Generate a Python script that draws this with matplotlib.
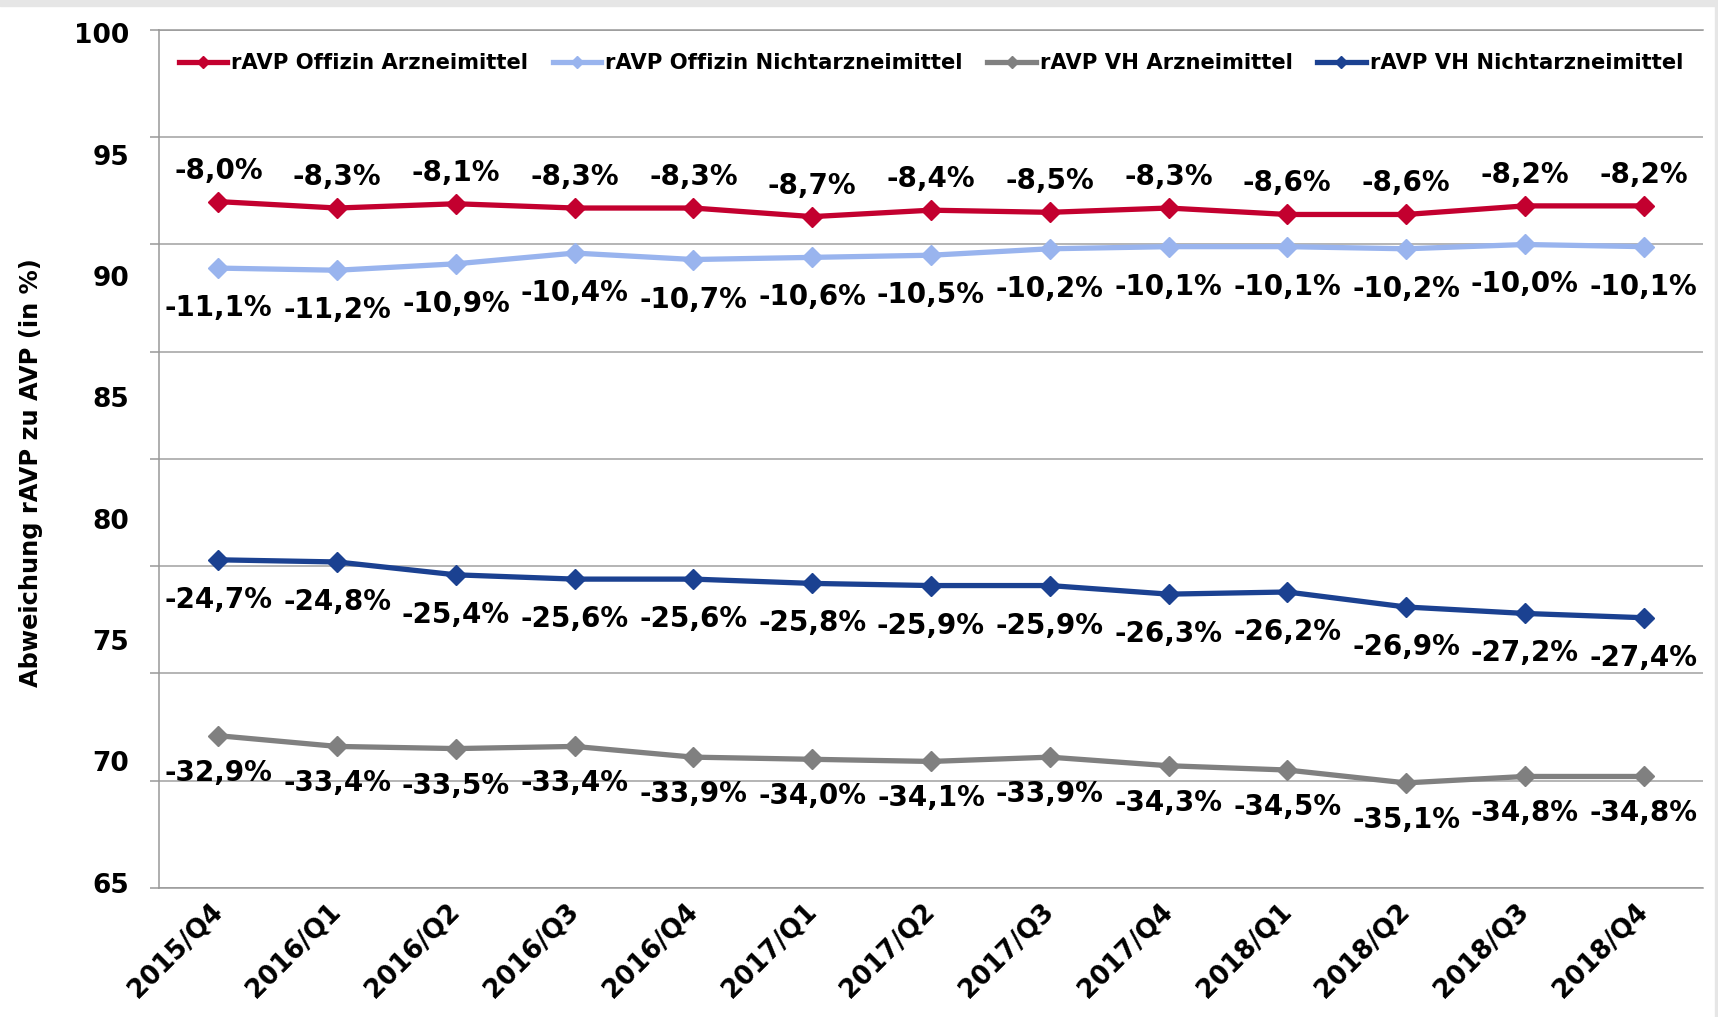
import numpy as np
import matplotlib
matplotlib.use("Agg")
import matplotlib.pyplot as plt
from matplotlib.patches import Rectangle
from matplotlib.transforms import ScaledTranslation

# quarters on the x axis
quarters = ["2015/Q4", "2016/Q1", "2016/Q2", "2016/Q3", "2016/Q4", "2017/Q1", "2017/Q2",
            "2017/Q3", "2017/Q4", "2018/Q1", "2018/Q2", "2018/Q3", "2018/Q4"]

# deviation rAVP vs AVP in percent
offizin_am = [-8.0, -8.3, -8.1, -8.3, -8.3, -8.7, -8.4, -8.5, -8.3, -8.6, -8.6, -8.2, -8.2]
offizin_nam = [-11.1, -11.2, -10.9, -10.4, -10.7, -10.6, -10.5, -10.2, -10.1, -10.1, -10.2, -10.0, -10.1]
vh_am = [-32.9, -33.4, -33.5, -33.4, -33.9, -34.0, -34.1, -33.9, -34.3, -34.5, -35.1, -34.8, -34.8]
vh_nam = [-24.7, -24.8, -25.4, -25.6, -25.6, -25.8, -25.9, -25.9, -26.3, -26.2, -26.9, -27.2, -27.4]

# y tick labels as printed in the original chart (not aligned to the gridlines)
ytick_text = ["65", "70", "75", "80", "85", "90", "95", "100"]

series = [
    ("rAVP Offizin Arzneimittel", offizin_am, "#C3002F", -31),
    ("rAVP Offizin Nichtarzneimittel", offizin_nam, "#99B4EE", 40),
    ("rAVP VH Arzneimittel", vh_am, "#808080", 37),
    ("rAVP VH Nichtarzneimittel", vh_nam, "#1B4191", 40),
]

plt.rcParams["font.family"] = "DejaVu Sans"
plt.rcParams["font.weight"] = "bold"

W, H = 1718, 1017
fig = plt.figure(figsize=(W / 100, H / 100), dpi=100)
ax = fig.add_axes([159 / W, 1 - 888 / H, 1544 / W, 858 / H])

# light grey frame bits of the screenshot
fig.patches.append(Rectangle((0, 1 - 6 / H), 1, 6 / H, transform=fig.transFigure,
                             color="#E6E6E6", zorder=0))
fig.patches.append(Rectangle((1 - 3 / W, 0), 3 / W, 1, transform=fig.transFigure,
                             color="#E6E6E6", zorder=0))

x = np.arange(len(quarters))
for name, vals, color, dy in series:
    y = 100 + np.array(vals)
    ax.plot(x, y, color=color, lw=3.8, marker="D", ms=10, label=name, zorder=3)
    for xi, yi, v in zip(x, y, vals):
        txt = f"{v:.1f}%".replace(".", ",")
        ax.annotate(txt, (xi, yi), xytext=(0, -dy), textcoords="offset pixels",
                    ha="center", va="center", fontsize=20, fontweight="bold",
                    color="black", zorder=4)

ax.set_xlim(-0.5, len(quarters) - 0.5)
ax.set_ylim(60, 100)

ax.set_xticks(x)
ax.set_xticklabels(quarters, fontsize=18.7, fontweight="bold")
shift = ScaledTranslation(-8 / 100, 0, fig.dpi_scale_trans)
for lab in ax.get_xticklabels():
    lab.set_rotation(45)
    lab.set_ha("right")
    lab.set_va("center")
    lab.set_rotation_mode("anchor")
    lab.set_transform(lab.get_transform() + shift)
ax.tick_params(axis="x", length=0, pad=14)

ax.yaxis.remove_overlapping_locs = False
ax.set_yticks(np.arange(60, 101, 5))
ax.set_yticklabels([])
ax.set_yticks(np.linspace(60.25, 99.85, len(ytick_text)), ytick_text, minor=True)
ax.tick_params(axis="y", which="major", length=6.5, width=1.1, color="#999999")
ax.tick_params(axis="y", which="minor", length=0, pad=21.5, labelsize=19)
for lab in ax.get_yticklabels(minor=True):
    lab.set_fontweight("bold")

ax.grid(True, axis="y", which="major", color="#A0A0A0", lw=1.1)
ax.set_axisbelow(True)
for side in ["left", "bottom", "top"]:
    ax.spines[side].set_color("#999999")
    ax.spines[side].set_linewidth(1.1)
ax.spines["right"].set_visible(False)

ax.set_ylabel("Abweichung rAVP zu AVP (in %)", fontsize=17.4, fontweight="bold")
ax.yaxis.set_label_coords(-0.0751, 0.484)

ax.legend(loc="center", bbox_to_anchor=(0.5, 0.9615), ncol=4, frameon=False,
          fontsize=15.2, handlelength=2.3, handletextpad=0.2, columnspacing=1.15,
          markerscale=0.65)

fig.savefig("out.png", dpi=100)
